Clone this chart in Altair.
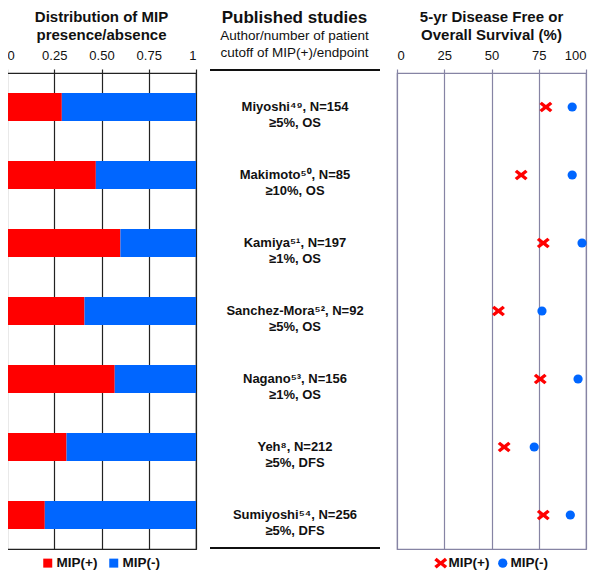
import altair as alt
import pandas as pd

FONT = "Liberation Sans"

studies = ["Miyoshi⁴⁹, N=154", "Makimoto⁵⁰, N=85", "Kamiya⁵¹, N=197",
           "Sanchez-Mora⁵², N=92", "Nagano⁵³, N=156", "Yeh⁸, N=212",
           "Sumiyoshi⁵⁴, N=256"]
cutoffs = ["≥5%, OS", "≥10%, OS", "≥1%, OS", "≥5%, OS", "≥1%, OS",
           "≥5%, DFS", "≥5%, DFS"]
mip_pos_share = [0.29, 0.47, 0.60, 0.41, 0.57, 0.315, 0.20]
mip_neg_share = [0.71, 0.53, 0.40, 0.59, 0.43, 0.685, 0.80]
surv_mip_pos = [78.8, 65.7, 77.4, 53.7, 75.8, 56.7, 77.4]
surv_mip_neg = [92.7, 92.7, 97.9, 76.7, 95.8, 72.6, 91.7]
groups = ["MIP(+)", "MIP(-)"]
x_ticks_share = [0, 0.25, 0.5, 0.75, 1]
x_ticks_surv = [0, 25, 50, 75, 100]

RED = "#FF0000"
BLUE = "#0066FF"
GRID_L = "#222222"
GRID_R = "#8684a4"

share_rows = []
for i, s in enumerate(studies):
    share_rows.append({"study": s, "group": groups[0], "share": mip_pos_share[i], "ord": 0})
    share_rows.append({"study": s, "group": groups[1], "share": mip_neg_share[i], "ord": 1})
share_df = pd.DataFrame(share_rows)

surv_rows = []
for i, s in enumerate(studies):
    surv_rows.append({"study": s, "group": groups[0], "surv": surv_mip_pos[i]})
    surv_rows.append({"study": s, "group": groups[1], "surv": surv_mip_neg[i]})
surv_df = pd.DataFrame(surv_rows)

text_df = pd.DataFrame({"study": studies,
                        "label": [s + "\n" + c for s, c in zip(studies, cutoffs)]})

W = 189
H = 476
ysc = alt.Scale(domain=studies, paddingInner=0.59, paddingOuter=0.295)

X_PATH = ("M-1.4,-0.65L-0.9,-1.15L0,-0.41L0.9,-1.15L1.4,-0.65L0.61,0"
          "L1.4,0.65L0.9,1.15L0,0.41L-0.9,1.15L-1.4,0.65L-0.61,0Z")

LEG_Y = 483


def legend(x, offset, colpad, **kw):
    return alt.Legend(title=None, orient="none", direction="horizontal",
                      legendX=x, legendY=LEG_Y, symbolStrokeWidth=0,
                      labelFont=FONT, labelFontSize=13.5,
                      labelFontWeight="bold", labelColor="#111",
                      labelOffset=offset, columnPadding=colpad, padding=0, **kw)


def top_axis(values, color, **kw):
    return alt.Axis(orient="top", values=values, title=None,
                    grid=True, gridColor=color, gridWidth=1.2,
                    domainColor=color, domainWidth=1.2,
                    tickColor=color, tickWidth=1.2, tickSize=4,
                    labelFont=FONT, labelFontSize=13, labelColor="#111",
                    labelPadding=7, **kw)


left = alt.Chart(share_df).mark_bar().encode(
    x=alt.X("share:Q", stack="zero",
            scale=alt.Scale(domain=[0, 1], nice=False),
            axis=top_axis(x_ticks_share, GRID_L,
                          labelExpr="datum.value == 0 ? '0' : datum.value == 1 ? '1' : format(datum.value, '.2f')")),
    y=alt.Y("study:N", sort=studies, scale=ysc, axis=None),
    color=alt.Color("group:N",
                    scale=alt.Scale(domain=groups, range=[RED, BLUE]),
                    legend=legend(34, 2, 9, symbolType="square", symbolSize=81)),
    order=alt.Order("ord:Q"),
).properties(
    width=W, height=H,
    title=alt.TitleParams(text=["Distribution of MIP", "presence/absence"],
                          font=FONT, fontSize=15, fontWeight="bold",
                          lineHeight=18, anchor="middle", offset=6, color="#111"),
    view=alt.ViewBackground(stroke=GRID_L, strokeWidth=1.2),
)

middle_text = alt.Chart(text_df).mark_text(
    font=FONT, fontSize=13, fontWeight="bold", lineBreak="\n",
    lineHeight=16, align="center", baseline="middle", color="#111"
).encode(
    y=alt.Y("study:N", sort=studies, scale=ysc, axis=None),
    x=alt.value(93),
    text="label:N",
)
top_rule = alt.Chart(text_df).mark_rule(color="#111", strokeWidth=1.5).encode(
    x=alt.value(8), x2=alt.value(178), y=alt.value(-3))
bottom_rule = alt.Chart(text_df).mark_rule(color="#111", strokeWidth=1.5).encode(
    x=alt.value(8), x2=alt.value(178), y=alt.value(475))

middle = alt.layer(middle_text, top_rule, bottom_rule).properties(
    width=189, height=H,
    title=alt.TitleParams(text="Published studies",
                          subtitle=["Author/number of patient", "cutoff of MIP(+)/endpoint"],
                          font=FONT, fontSize=17, fontWeight="bold", color="#111",
                          subtitleFont=FONT, subtitleFontSize=13.5,
                          subtitleColor="#111", subtitleLineHeight=17,
                          subtitlePadding=2, anchor="middle", offset=9, dx=-2),
    view=alt.ViewBackground(strokeOpacity=0),
)

right = alt.Chart(surv_df).mark_point(filled=True, opacity=1, size=85).encode(
    x=alt.X("surv:Q", scale=alt.Scale(domain=[0, 100], nice=False),
            axis=top_axis(x_ticks_surv, GRID_R)),
    y=alt.Y("study:N", sort=studies, scale=ysc, axis=None),
    color=alt.Color("group:N",
                    scale=alt.Scale(domain=groups, range=[RED, BLUE]),
                    legend=legend(37, 1, 6, symbolSize=85)),
    shape=alt.Shape("group:N",
                    scale=alt.Scale(domain=groups, range=[X_PATH, "circle"]),
                    legend=legend(37, 1, 6, symbolSize=85)),
).properties(
    width=W, height=H,
    title=alt.TitleParams(text=["5-yr Disease Free or", "Overall Survival (%)"],
                          font=FONT, fontSize=15, fontWeight="bold",
                          lineHeight=18, anchor="middle", offset=6, color="#111"),
    view=alt.ViewBackground(stroke=GRID_R, strokeWidth=1.2),
)

chart = alt.hconcat(left, middle, right, spacing=6, bounds="flush").resolve_scale(
    color="independent", shape="independent", y="shared"
).properties(
    padding={"left": -3, "top": 0, "right": 2, "bottom": 0},
    background="white",
)

chart.save("out.html", embed_options={"renderer": "svg", "actions": False})
